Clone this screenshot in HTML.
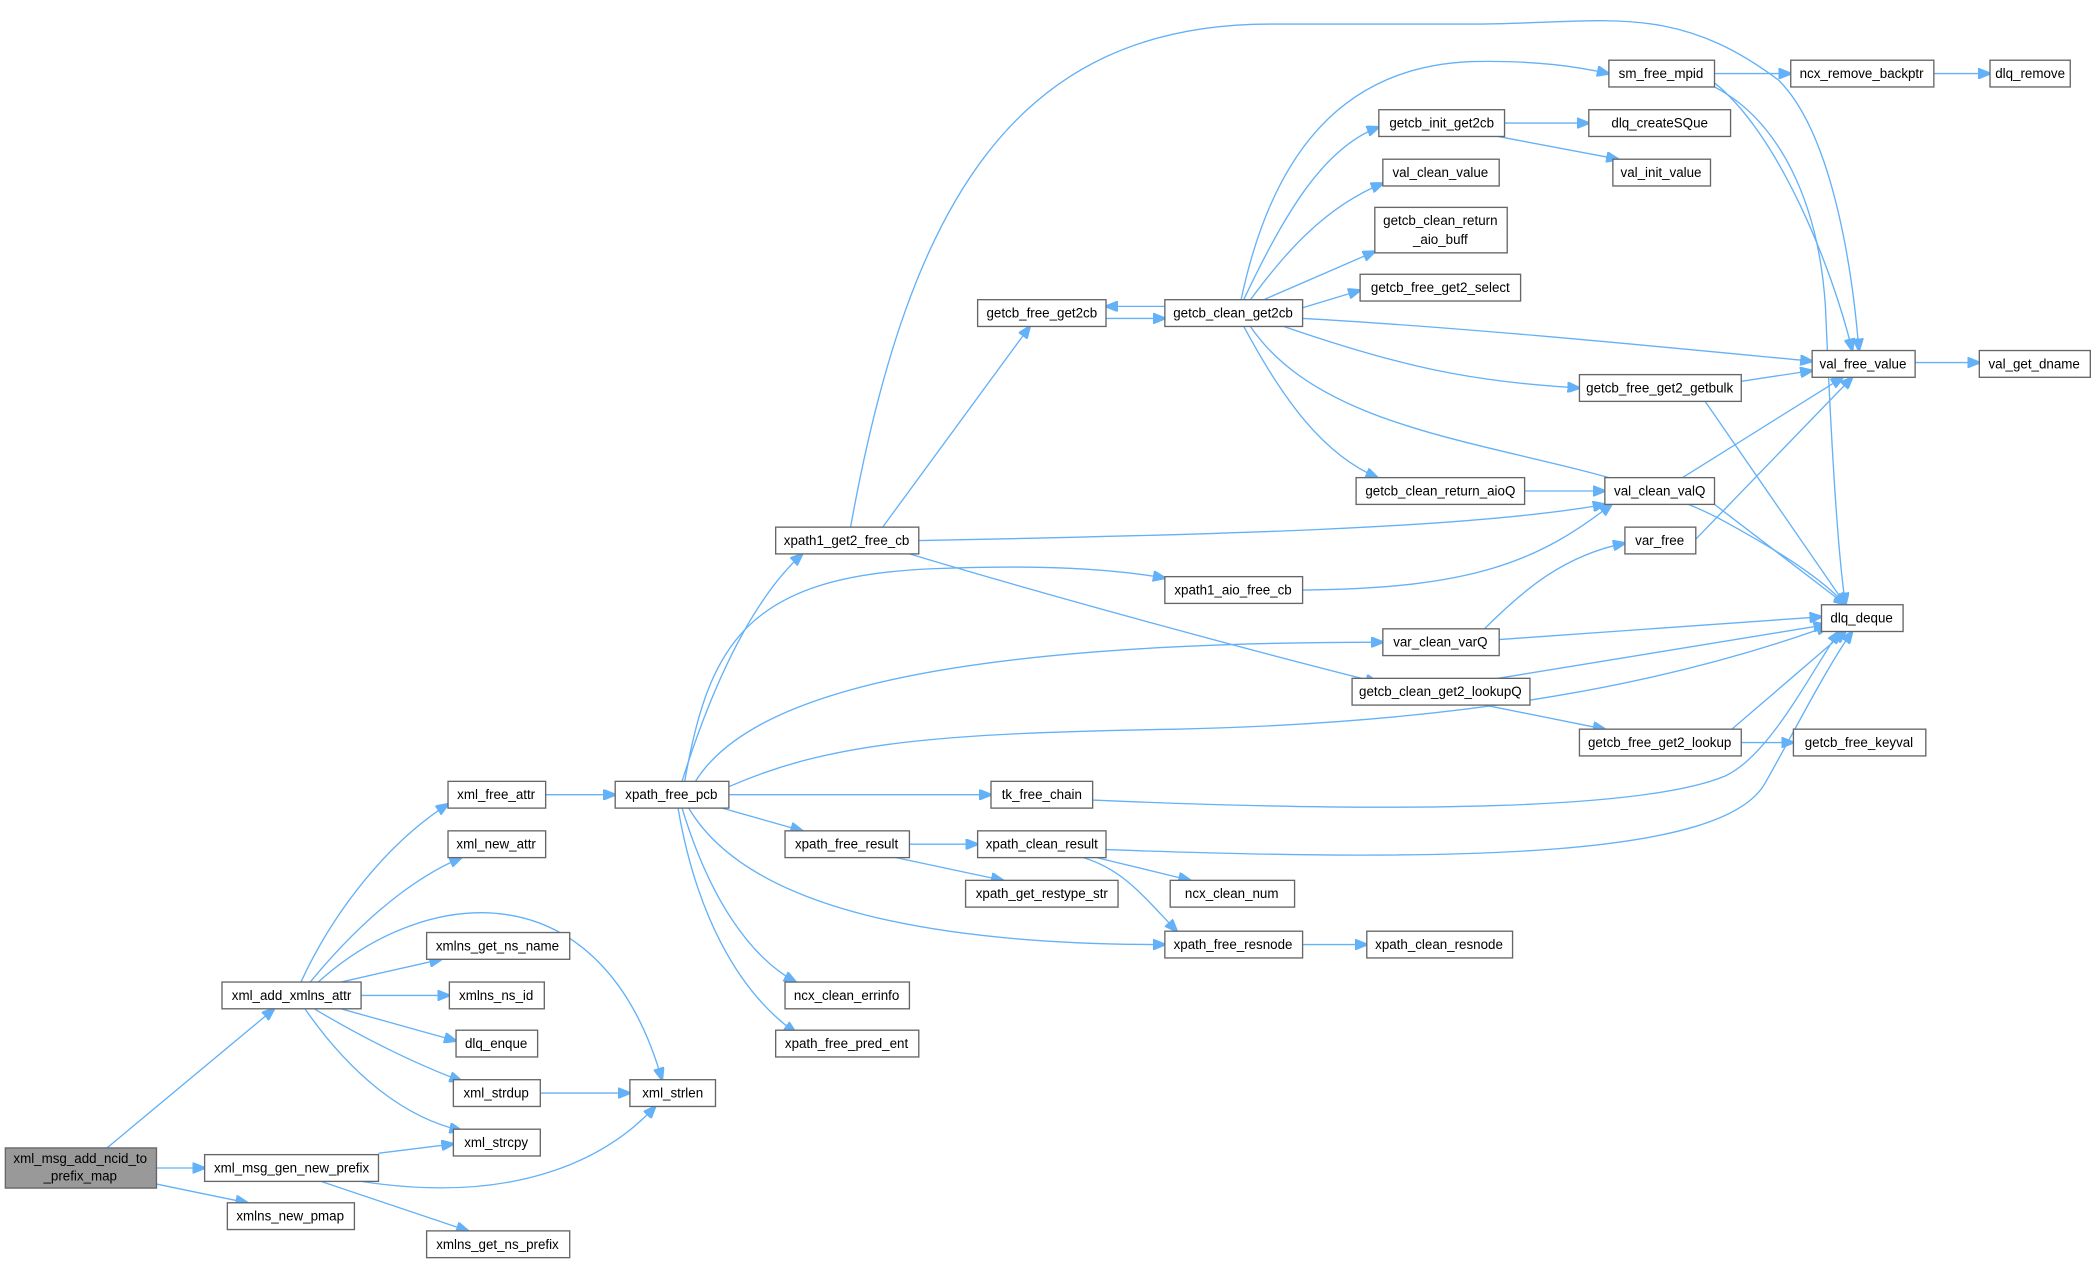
<!DOCTYPE html>
<html><head><meta charset="utf-8"><style>
html,body{margin:0;padding:0;background:#fff;}
svg{display:block}
text{font-family:"Liberation Sans",Arial,sans-serif;font-size:10px;fill:#000;text-anchor:middle;dominant-baseline:central}
rect{fill:#fff;stroke:#666;stroke-width:1}
path{fill:none;stroke:#63b1f8;stroke-width:1}
</style></head><body>
<svg width="2097" height="1263" viewBox="0 0 1568 944" preserveAspectRatio="none" xmlns="http://www.w3.org/2000/svg">
<defs><marker id="a" markerUnits="userSpaceOnUse" markerWidth="10" markerHeight="8" refX="9" refY="4" orient="auto"><path d="M0,0 L10,4 L0,8 Z" style="fill:#63b1f8;stroke:#63b1f8"/></marker></defs>
<g marker-end="url(#a)">
<path d="M117,873 L153,873"/>
<path d="M80,858 L205,754"/>
<path d="M117,885 L185,899"/>
<path d="M225,734 C250,680 290,630 335,601"/>
<path d="M232,734 C260,700 300,660 345,641"/>
<path d="M238,734 C320,660 450,650 495,807"/>
<path d="M255,734 L330,717"/>
<path d="M270,744 L336,744"/>
<path d="M255,754 L341,778"/>
<path d="M235,754 C270,775 310,795 345,808"/>
<path d="M228,754 C260,800 300,835 345,845"/>
<path d="M283,862 L339,855"/>
<path d="M270,883 C380,900 450,870 490,827"/>
<path d="M240,883 L350,920"/>
<path d="M404,817 L471,817"/>
<path d="M408,594 L460,594"/>
<path d="M510,584 C530,520 560,450 600,414"/>
<path d="M512,584 C530,480 560,430 700,425 C780,422 830,425 871,432"/>
<path d="M520,584 C560,520 700,480 1034,480"/>
<path d="M545,588 C620,555 700,548 880,545 C1100,540 1250,510 1367,468"/>
<path d="M545,594 L741,594"/>
<path d="M540,604 L600,621"/>
<path d="M515,604 C560,680 700,706 871,706"/>
<path d="M510,604 C530,670 560,715 595,734"/>
<path d="M507,604 C520,680 550,740 595,772"/>
<path d="M636,394 C680,150 760,18 950,18 L1100,18 C1200,18 1250,0 1330,60 C1370,100 1385,200 1390,262"/>
<path d="M660,394 L770,244"/>
<path d="M687,404 C900,400 1100,395 1200,377"/>
<path d="M680,414 C800,450 950,490 1030,510"/>
<path d="M827,238 L871,238"/>
<path d="M871,229 L827,229"/>
<path d="M928,224 C950,120 1000,50 1100,46 C1150,45 1180,50 1203,55"/>
<path d="M930,224 C960,160 990,110 1031,95"/>
<path d="M935,224 C960,190 990,155 1034,137"/>
<path d="M945,224 L1028,188"/>
<path d="M974,230 L1017,217"/>
<path d="M974,238 C1100,245 1250,260 1355,270"/>
<path d="M960,244 C1050,275 1100,285 1181,290"/>
<path d="M930,244 C960,300 990,340 1030,357"/>
<path d="M935,244 C1000,340 1180,330 1290,390 C1330,412 1362,432 1380,452"/>
<path d="M1125,92 L1188,92"/>
<path d="M1120,102 L1210,119"/>
<path d="M1282,55 L1339,55"/>
<path d="M1282,62 C1330,100 1370,200 1385,262"/>
<path d="M1282,65 C1330,90 1360,150 1365,230 C1370,350 1375,420 1380,452"/>
<path d="M1446,55 L1488,55"/>
<path d="M1432,271 L1480,271"/>
<path d="M1302,285 L1355,277"/>
<path d="M1275,300 L1380,452"/>
<path d="M1140,367 L1200,367"/>
<path d="M1258,357 L1378,282"/>
<path d="M1282,377 L1380,452"/>
<path d="M974,441 C1100,440 1150,420 1205,377"/>
<path d="M1110,470 C1140,440 1170,415 1215,406"/>
<path d="M1121,478 L1362,461"/>
<path d="M1268,403 L1385,282"/>
<path d="M1120,507 L1365,467"/>
<path d="M1110,527 L1200,545"/>
<path d="M1295,545 L1380,472"/>
<path d="M1302,555 L1341,555"/>
<path d="M817,598 C1050,608 1230,605 1290,580 C1322,565 1350,510 1375,472"/>
<path d="M680,631 L731,631"/>
<path d="M670,641 L750,658"/>
<path d="M827,635 C1100,645 1290,640 1320,585 C1340,550 1365,500 1385,472"/>
<path d="M820,641 L890,658"/>
<path d="M810,641 C840,650 855,670 880,696"/>
<path d="M974,706 L1022,706"/>
</g>
<g>
<rect x="4" y="858" width="113" height="30" style="fill:#999"/><text x="60" y="866">xml_msg_add_ncid_to</text><text x="60" y="879">_prefix_map</text>
<rect x="153" y="863" width="130" height="20"/><text x="218" y="873">xml_msg_gen_new_prefix</text>
<rect x="170" y="899" width="95" height="20"/><text x="217" y="909">xmlns_new_pmap</text>
<rect x="166" y="734" width="104" height="20"/><text x="218" y="744">xml_add_xmlns_attr</text>
<rect x="335" y="584" width="73" height="20"/><text x="371" y="594">xml_free_attr</text>
<rect x="335" y="621" width="73" height="20"/><text x="371" y="631">xml_new_attr</text>
<rect x="319" y="697" width="107" height="20"/><text x="372" y="707">xmlns_get_ns_name</text>
<rect x="336" y="734" width="71" height="20"/><text x="371" y="744">xmlns_ns_id</text>
<rect x="341" y="770" width="61" height="20"/><text x="371" y="780">dlq_enque</text>
<rect x="339" y="807" width="65" height="20"/><text x="371" y="817">xml_strdup</text>
<rect x="339" y="844" width="65" height="20"/><text x="371" y="854">xml_strcpy</text>
<rect x="319" y="920" width="107" height="20"/><text x="372" y="930">xmlns_get_ns_prefix</text>
<rect x="471" y="807" width="64" height="20"/><text x="503" y="817">xml_strlen</text>
<rect x="460" y="584" width="85" height="20"/><text x="502" y="594">xpath_free_pcb</text>
<rect x="580" y="394" width="107" height="20"/><text x="633" y="404">xpath1_get2_free_cb</text>
<rect x="587" y="621" width="93" height="20"/><text x="633" y="631">xpath_free_result</text>
<rect x="587" y="734" width="93" height="20"/><text x="633" y="744">ncx_clean_errinfo</text>
<rect x="580" y="770" width="107" height="20"/><text x="633" y="780">xpath_free_pred_ent</text>
<rect x="731" y="224" width="96" height="20"/><text x="779" y="234">getcb_free_get2cb</text>
<rect x="871" y="224" width="103" height="20"/><text x="922" y="234">getcb_clean_get2cb</text>
<rect x="871" y="431" width="103" height="20"/><text x="922" y="441">xpath1_aio_free_cb</text>
<rect x="741" y="584" width="76" height="20"/><text x="779" y="594">tk_free_chain</text>
<rect x="731" y="621" width="96" height="20"/><text x="779" y="631">xpath_clean_result</text>
<rect x="722" y="658" width="114" height="20"/><text x="779" y="668">xpath_get_restype_str</text>
<rect x="1203" y="45" width="79" height="20"/><text x="1242" y="55">sm_free_mpid</text>
<rect x="1031" y="82" width="94" height="20"/><text x="1078" y="92">getcb_init_get2cb</text>
<rect x="1034" y="119" width="87" height="20"/><text x="1077" y="129">val_clean_value</text>
<rect x="1028" y="155" width="99" height="34"/><text x="1077" y="165">getcb_clean_return</text><text x="1077" y="179">_aio_buff</text>
<rect x="1017" y="205" width="120" height="20"/><text x="1077" y="215">getcb_free_get2_select</text>
<rect x="1181" y="280" width="121" height="20"/><text x="1241" y="290">getcb_free_get2_getbulk</text>
<rect x="1014" y="357" width="126" height="20"/><text x="1077" y="367">getcb_clean_return_aioQ</text>
<rect x="1034" y="470" width="87" height="20"/><text x="1077" y="480">var_clean_varQ</text>
<rect x="1011" y="507" width="133" height="20"/><text x="1077" y="517">getcb_clean_get2_lookupQ</text>
<rect x="1181" y="545" width="121" height="20"/><text x="1241" y="555">getcb_free_get2_lookup</text>
<rect x="875" y="658" width="93" height="20"/><text x="921" y="668">ncx_clean_num</text>
<rect x="871" y="696" width="103" height="20"/><text x="922" y="706">xpath_free_resnode</text>
<rect x="1022" y="696" width="109" height="20"/><text x="1076" y="706">xpath_clean_resnode</text>
<rect x="1188" y="82" width="106" height="20"/><text x="1241" y="92">dlq_createSQue</text>
<rect x="1206" y="119" width="73" height="20"/><text x="1242" y="129">val_init_value</text>
<rect x="1339" y="45" width="107" height="20"/><text x="1392" y="55">ncx_remove_backptr</text>
<rect x="1488" y="45" width="60" height="20"/><text x="1518" y="55">dlq_remove</text>
<rect x="1355" y="262" width="77" height="20"/><text x="1393" y="272">val_free_value</text>
<rect x="1480" y="262" width="83" height="20"/><text x="1521" y="272">val_get_dname</text>
<rect x="1200" y="357" width="82" height="20"/><text x="1241" y="367">val_clean_valQ</text>
<rect x="1215" y="394" width="53" height="20"/><text x="1241" y="404">var_free</text>
<rect x="1362" y="452" width="61" height="20"/><text x="1392" y="462">dlq_deque</text>
<rect x="1341" y="545" width="99" height="20"/><text x="1390" y="555">getcb_free_keyval</text>
</g>
</svg>
</body></html>
